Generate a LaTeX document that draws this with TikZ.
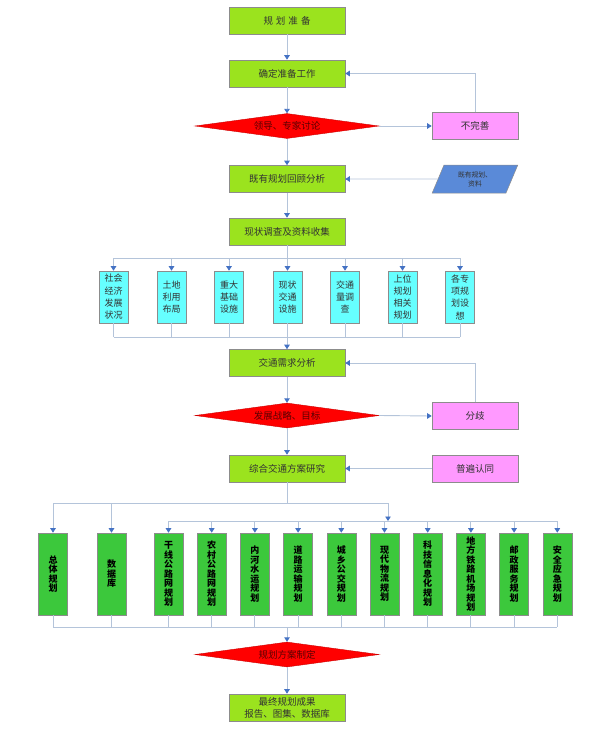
\documentclass[tikz,border=0pt]{standalone}
\usepackage{fontspec}
\setmainfont{Noto Sans CJK SC}
\usetikzlibrary{shapes.geometric,arrows.meta}
\definecolor{limec}{HTML}{9BE31E}
\definecolor{greenc}{HTML}{3CC83C}
\definecolor{cyanc}{HTML}{66FFFF}
\definecolor{pinkc}{HTML}{FF99FF}
\definecolor{bluec}{HTML}{5A8AD8}
\definecolor{linec}{HTML}{B4C4DA}
\definecolor{arrowc}{HTML}{4472C4}
\definecolor{bordc}{HTML}{8C8C8C}
\definecolor{txtc}{HTML}{333333}
\definecolor{dtxt}{HTML}{5A0000}
\begin{document}
\begin{tikzpicture}[x=1pt,y=-1pt,
  mainbox/.style={rectangle,draw=bordc,line width=0.6pt,fill=limec,minimum width=116pt,minimum height=27pt,inner sep=1pt,align=center,text=txtc,font=\fontsize{9.5}{12}\selectfont},
  sidebox/.style={rectangle,draw=bordc,line width=0.6pt,fill=pinkc,minimum width=86pt,minimum height=27pt,inner sep=1pt,text=txtc,font=\fontsize{9.5}{12}\selectfont},
  dia/.style={diamond,fill=red,draw=red!80!black,line width=0.4pt,shape aspect=7.4,minimum width=184pt,minimum height=25pt,inner sep=0pt,text=dtxt,font=\fontsize{9.5}{12}\selectfont},
  para/.style={trapezium,trapezium left angle=67,trapezium right angle=113,trapezium stretches=true,fill=bluec,draw=bordc,line width=0.5pt,minimum width=86pt,minimum height=28pt,inner sep=0pt,align=center,text=txtc,font=\fontsize{6.8}{9}\selectfont},
  cbox/.style={rectangle,draw=bordc,line width=0.6pt,fill=cyanc,minimum width=29pt,minimum height=52pt,inner sep=0pt,align=center,text=txtc,font=\fontsize{9}{12.3}\selectfont},
  gbox/.style={rectangle,draw=bordc,line width=0.6pt,fill=greenc,minimum width=29pt,minimum height=82pt,inner sep=0pt,align=center,text=black,font=\bfseries\fontsize{9}{9.5}\selectfont},
  conn/.style={draw=linec,line width=0.9pt},
  arr/.style={draw=linec,line width=0.9pt,-{Triangle[width=5.5pt,length=4.5pt,color=arrowc]}}
]
\useasboundingbox (0,0) rectangle (595,736);

% main column
\node[mainbox] (b1) at (287,20.5) {规\hspace{3pt}划\hspace{3pt}准\hspace{3pt}备};
\node[mainbox] (b2) at (287,73.5) {确定准备工作};
\node[dia] (d1) at (287,126) {领导、专家讨论};
\node[sidebox] (p1) at (475,126) {不完善};
\node[mainbox] (b3) at (287,179) {既有规划回顾分析};
\node[para] (q1) at (475,179) {既有规划、\\资料};
\node[mainbox] (b4) at (287,231.5) {现状调查及资料收集};

% cyan row
\node[cbox] (c1) at (113.5,297) {社会\\经济\\发展\\状况};
\node[cbox] (c2) at (171.5,297) {土地\\利用\\布局};
\node[cbox] (c3) at (229,297) {重大\\基础\\设施};
\node[cbox] (c4) at (287.5,297) {现状\\交通\\设施};
\node[cbox] (c5) at (345,297) {交通\\量调\\查};
\node[cbox] (c6) at (402.5,297) {上位\\规划\\相关\\规划};
\node[cbox] (c7) at (460,297) {各专\\项规\\划设\\想};

\node[mainbox] (b5) at (287,363) {交通需求分析};
\node[dia] (d2) at (287,415.5) {发展战略、目标};
\node[sidebox] (p2) at (475,416) {分歧};
\node[mainbox] (b6) at (287,468.5) {综合交通方案研究};
\node[sidebox] (p3) at (475,468.5) {普遍认同};

% green row
\node[gbox] (g1) at (53,574) {总\\体\\规\\划};
\node[gbox] (g2) at (111.5,574) {数\\据\\库};
\node[gbox] (g3) at (168.5,574) {干\\线\\公\\路\\网\\规\\划};
\node[gbox] (g4) at (211.7,574) {农\\村\\公\\路\\网\\规\\划};
\node[gbox] (g5) at (254.9,574) {内\\河\\水\\运\\规\\划};
\node[gbox] (g6) at (298.1,574) {道\\路\\运\\输\\规\\划};
\node[gbox] (g7) at (341.3,574) {城\\乡\\公\\交\\规\\划};
\node[gbox] (g8) at (384.5,574) {现\\代\\物\\流\\规\\划};
\node[gbox] (g9) at (427.7,574) {科\\技\\信\\息\\化\\规\\划};
\node[gbox] (g10) at (470.9,574) {地\\方\\铁\\路\\机\\场\\规\\划};
\node[gbox] (g11) at (514.1,574) {邮\\政\\服\\务\\规\\划};
\node[gbox] (g12) at (557.3,574) {安\\全\\应\\急\\规\\划};

\node[dia] (d3) at (287,654.5) {规划方案制定};
\node[mainbox] (b7) at (287,707.5) {最终规划成果\\报告、图集、数据库};

% connectors top
\draw[arr] (b1) -- (b2);
\draw[arr] (b2) -- (d1);
\draw[arr] (d1.east) -- (p1.west);
\draw[arr] (p1.north) |- (b2.east);
\draw[arr] (d1.south) -- (b3.north);
\draw[arr] (q1.west) -- (b3.east);
\draw[arr] (b3) -- (b4);

% cyan buses
\coordinate (t1) at (287,258);
\coordinate (t2) at (287,337);
\draw[conn] (b4.south) -- (t1);
\draw[conn] (c1|-t1) -- (c7|-t1);
\draw[conn] (c1|-t2) -- (c7|-t2);
\foreach \i in {1,...,7}{
  \draw[arr] (c\i|-t1) -- (c\i.north);
  \draw[conn] (c\i.south) -- (c\i|-t2);
}
\draw[arr] (t2) -- (b5.north);

\draw[arr] (b5) -- (d2);
\draw[arr] (d2.east) -- (p2.west);
\draw[arr] (p2.north) |- (b5.east);
\draw[arr] (d2.south) -- (b6.north);
\draw[arr] (p3.west) -- (b6.east);

% green buses
\coordinate (u1) at (287,503);
\coordinate (u1r) at (388,503);
\coordinate (u2) at (388,521);
\coordinate (u3) at (287,627);
\draw[conn] (b6.south) -- (u1);
\draw[conn] (g1|-u1) -- (u1r);
\draw[arr] (u1r) -- (u2);
\draw[conn] (g3|-u2) -- (g12|-u2);
\draw[arr] (g1|-u1) -- (g1.north);
\draw[arr] (g2|-u1) -- (g2.north);
\foreach \i in {3,...,12}{
  \draw[arr] (g\i|-u2) -- (g\i.north);
}
\foreach \i in {1,...,12}{
  \draw[conn] (g\i.south) -- (g\i|-u3);
}
\draw[conn] (g1|-u3) -- (g12|-u3);
\draw[arr] (u3) -- (d3.north);
\draw[arr] (d3.south) -- (b7.north);
\end{tikzpicture}
\end{document}
